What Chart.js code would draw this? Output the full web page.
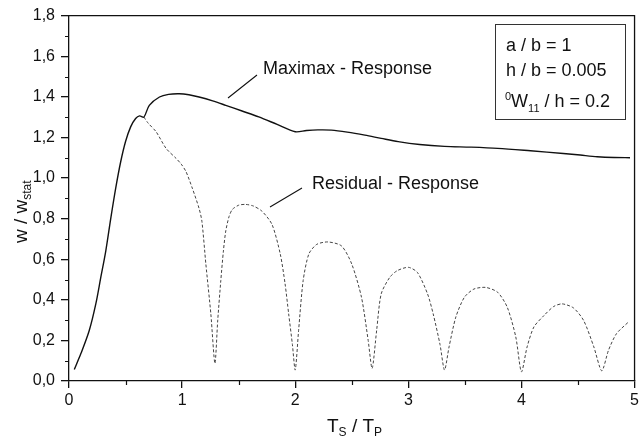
<!DOCTYPE html>
<html>
<head>
<meta charset="utf-8">
<script src="https://cdn.jsdelivr.net/npm/chart.js@4/dist/chart.umd.min.js"></script>
<style>
  html, body { margin: 0; padding: 0; background: #fff; }
  #wrap { width: 642px; height: 446px; }
</style>
</head>
<body>
<div id="wrap"><canvas id="chart" width="642" height="446"></canvas></div>
<script>
// Values (estimates)
const maximaxX = [0.047, 0.105, 0.179, 0.237, 0.281, 0.325, 0.369, 0.413, 0.457, 0.50, 0.545, 0.589, 0.624, 0.662,
  0.71, 0.80, 0.88, 0.975, 1.06, 1.15, 1.27, 1.386, 1.53, 1.678, 1.84, 2.0, 2.1, 2.2, 2.32, 2.46, 2.616, 2.76,
  2.91, 3.1, 3.32, 3.55, 3.79, 4.08, 4.37, 4.52, 4.67, 4.82, 4.96];
const maximaxY = [0.057, 0.135, 0.249, 0.38, 0.51, 0.64, 0.80, 0.95, 1.08, 1.18, 1.252, 1.293, 1.306, 1.30,
  1.358, 1.399, 1.412, 1.415, 1.41, 1.399, 1.38, 1.358, 1.33, 1.301, 1.264, 1.228, 1.234, 1.237, 1.236, 1.226, 1.211, 1.195,
  1.179, 1.165, 1.156, 1.152, 1.146, 1.134, 1.121, 1.113, 1.105, 1.101, 1.10];

const residualX = [0.662, 0.70, 0.77, 0.858, 0.946, 0.99, 1.034, 1.09, 1.15, 1.175, 1.21, 1.254, 1.29,
  1.315, 1.342, 1.365, 1.386, 1.415, 1.444, 1.50, 1.56, 1.63, 1.707, 1.795, 1.868, 1.91, 1.942, 1.975, 2.0,
  2.03, 2.07, 2.12, 2.19, 2.29, 2.41, 2.50, 2.586, 2.645, 2.68,
  2.72, 2.76, 2.835, 2.90, 3.0, 3.08, 3.17, 3.22, 3.28, 3.32,
  3.36, 3.42, 3.495, 3.58, 3.685, 3.79, 3.875, 3.95, 4.0,
  4.05, 4.11, 4.20, 4.285, 4.36, 4.46, 4.55, 4.64, 4.71,
  4.77, 4.84, 4.945];
const residualY = [1.30, 1.27, 1.228, 1.146, 1.097, 1.07, 1.032, 0.95, 0.85, 0.787, 0.576, 0.331, 0.087,
  0.30, 0.494, 0.64, 0.739, 0.81, 0.845, 0.866, 0.870, 0.862, 0.836, 0.771, 0.625, 0.48, 0.331, 0.18, 0.054,
  0.25, 0.494, 0.625, 0.673, 0.685, 0.665, 0.576, 0.412, 0.20, 0.062,
  0.25, 0.429, 0.51, 0.543, 0.56, 0.535, 0.429, 0.33, 0.18, 0.054,
  0.168, 0.315, 0.412, 0.453, 0.461, 0.437, 0.363, 0.217, 0.045,
  0.168, 0.266, 0.323, 0.367, 0.38, 0.36, 0.298, 0.168, 0.05,
  0.152, 0.233, 0.29];

// Axis setup
const xMin = 0, xMax = 5, xStep = 1, xMinorStep = 0.5;
const yMin = 0, yMax = 1.8, yStep = 0.2, yMinorStep = 0.1;

// Text labels
const paramLines = ['a / b = 1', 'h / b = 0.005'];
const maximaxLabel = 'Maximax - Response';
const residualLabel = 'Residual - Response';

const FONT = '"Liberation Sans", Arial, Helvetica, sans-serif';
const INK = '#111';
Chart.defaults.font.family = FONT;
Chart.defaults.color = INK;

function toPoints(xs, ys) {
  return xs.map((x, i) => ({ x: x, y: ys[i] }));
}

// Draw a run of text pieces (with sub/superscripts) left to right
function drawRich(ctx, parts, x, y) {
  let cx = x;
  parts.forEach(p => {
    ctx.font = p.size + 'px ' + FONT;
    ctx.fillText(p.text, cx, y + (p.dy || 0));
    cx += ctx.measureText(p.text).width;
  });
}

const decorPlugin = {
  id: 'decor',
  afterDraw(chart) {
    const ctx = chart.ctx;
    const area = chart.chartArea;
    const xs = chart.scales.x;
    const ys = chart.scales.y;
    ctx.save();
    ctx.strokeStyle = INK;
    ctx.fillStyle = INK;

    // frame top and right
    ctx.lineWidth = 1.3;
    ctx.beginPath();
    ctx.moveTo(area.left, area.top);
    ctx.lineTo(area.right, area.top);
    ctx.lineTo(area.right, area.bottom);
    ctx.stroke();

    // minor ticks
    ctx.lineWidth = 1.2;
    ctx.beginPath();
    for (let v = yMin + yMinorStep; v < yMax; v += yStep) {
      const py = Math.round(ys.getPixelForValue(v)) + 0.5;
      ctx.moveTo(area.left - 4, py);
      ctx.lineTo(area.left, py);
    }
    for (let v = xMin + xMinorStep; v < xMax; v += xStep) {
      const px = Math.round(xs.getPixelForValue(v)) + 0.5;
      ctx.moveTo(px, area.bottom);
      ctx.lineTo(px, area.bottom + 4);
    }
    ctx.stroke();

    // axis titles
    ctx.textAlign = 'left';
    ctx.textBaseline = 'alphabetic';
    drawRich(ctx, [
      { text: 'T', size: 19 },
      { text: 'S', size: 12, dy: 4 },
      { text: ' / T', size: 19 },
      { text: 'P', size: 12, dy: 4 }
    ], 327, 432);

    ctx.save();
    ctx.translate(27, 243);
    ctx.rotate(-Math.PI / 2);
    drawRich(ctx, [
      { text: 'w / w', size: 19 },
      { text: 'stat', size: 12, dy: 4 }
    ], 0, 0);
    ctx.restore();

    // parameter box
    ctx.lineWidth = 1;
    ctx.strokeStyle = '#333';
    ctx.strokeRect(495.5, 24.5, 130, 95);
    ctx.font = '18px ' + FONT;
    ctx.fillText(paramLines[0], 506, 51);
    ctx.fillText(paramLines[1], 506, 76);
    drawRich(ctx, [
      { text: '0', size: 11, dy: -7 },
      { text: 'W', size: 18 },
      { text: '11', size: 11, dy: 5 },
      { text: ' / h = 0.2', size: 18 }
    ], 505, 107);

    // curve annotations with leader lines
    ctx.font = '18px ' + FONT;
    ctx.fillText(maximaxLabel, 263, 74);
    ctx.fillText(residualLabel, 312, 189);
    ctx.strokeStyle = INK;
    ctx.lineWidth = 1.1;
    ctx.beginPath();
    ctx.moveTo(257, 75);
    ctx.lineTo(228, 98);
    ctx.moveTo(302, 188);
    ctx.lineTo(270, 207);
    ctx.stroke();

    ctx.restore();
  }
};

new Chart(document.getElementById('chart'), {
  type: 'line',
  data: {
    datasets: [{
      label: 'Maximax - Response',
      data: toPoints(maximaxX, maximaxY),
      borderColor: INK,
      borderWidth: 1.4,
      pointRadius: 0,
      tension: 0.3,
      fill: false
    }, {
      label: 'Residual - Response',
      data: toPoints(residualX, residualY),
      borderColor: '#444',
      borderWidth: 1,
      borderDash: [3, 2],
      pointRadius: 0,
      tension: 0.25,
      fill: false
    }]
  },
  options: {
    responsive: false,
    animation: false,
    layout: { padding: { top: 13, right: 4, left: 0, bottom: 0 } },
    plugins: {
      legend: { display: false },
      tooltip: { enabled: false }
    },
    scales: {
      x: {
        type: 'linear',
        min: xMin,
        max: xMax,
        ticks: { stepSize: xStep, color: INK, font: { size: 16 }, padding: 3 },
        grid: { drawOnChartArea: false, tickLength: 7, color: INK, lineWidth: 1.3 },
        border: { color: INK, width: 1.3 },
        afterFit(scale) { scale.height = 65; }
      },
      y: {
        type: 'linear',
        min: yMin,
        max: yMax,
        ticks: {
          stepSize: yStep,
          color: INK,
          font: { size: 16 },
          padding: 6,
          callback: v => v.toFixed(1).replace('.', ',')
        },
        grid: { drawOnChartArea: false, tickLength: 8, color: INK, lineWidth: 1.3 },
        border: { color: INK, width: 1.3 },
        afterFit(scale) { scale.width = 69; }
      }
    }
  },
  plugins: [decorPlugin]
});
</script>
</body>
</html>
